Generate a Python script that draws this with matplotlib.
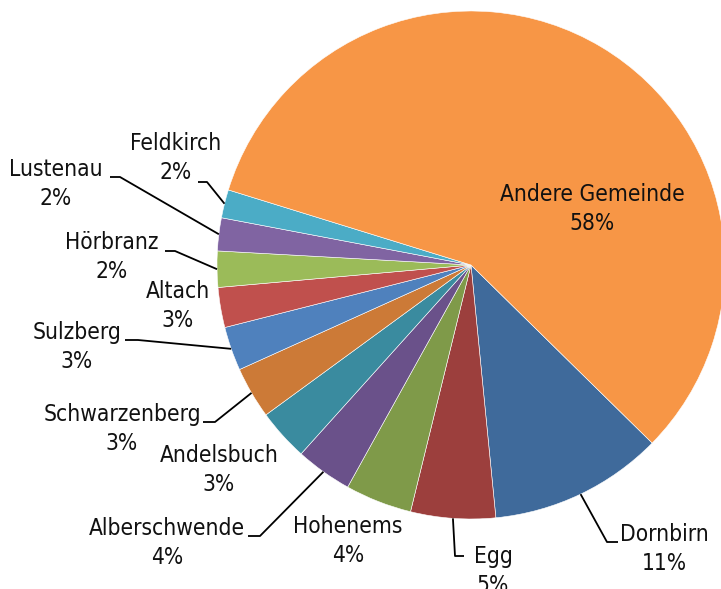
import numpy as np
import matplotlib
matplotlib.use("Agg")
import matplotlib.pyplot as plt
from matplotlib import font_manager

# narrow face if there is one, otherwise condensed DejaVu
names = {f.name for f in font_manager.fontManager.ttflist}
if 'Liberation Sans Narrow' in names:
    plt.rcParams['font.family'] = ['Liberation Sans Narrow', 'DejaVu Sans']
    stretch = 'normal'
else:
    plt.rcParams['font.family'] = ['DejaVu Sans']
    stretch = 'condensed'

# shares per municipality (percent), clockwise from Dornbirn
gemeinden = ['Dornbirn', 'Egg', 'Hohenems', 'Alberschwende', 'Andelsbuch',
             'Schwarzenberg', 'Sulzberg', 'Altach', 'Hörbranz', 'Lustenau',
             'Feldkirch', 'Andere Gemeinde']
anteile = [11.1, 5.4, 4.25, 3.6, 3.3, 3.3, 2.8, 2.55, 2.3, 2.1, 1.8, 57.7]
farben = ['#3F6A9B', '#9C3F3D', '#7F9A49', '#6A518A', '#3A8B9F', '#CC7A37',
          '#4F81BD', '#C0504D', '#9BBB59', '#8064A2', '#4BACC6', '#F79646']

W, H = 721, 589
fig = plt.figure(figsize=(W / 100, H / 100), dpi=100)
ax = fig.add_axes([0, 0, 1, 1])

cx, cy, r = 471, H - 265, 254
wedges, _ = ax.pie(anteile, colors=farben, startangle=-44.5, counterclock=False,
                   center=(cx, cy), radius=r,
                   wedgeprops=dict(edgecolor='white', linewidth=0.4))
ax.set_xlim(0, W)
ax.set_ylim(0, H)
ax.set_aspect('equal')
ax.axis('off')

# label block centres and leader knees (pixel coords from top-left)
pos = {
    'Dornbirn': (664, 549), 'Egg': (493, 571), 'Hohenems': (348, 541),
    'Alberschwende': (167, 543), 'Andelsbuch': (219, 470),
    'Schwarzenberg': (122, 429), 'Sulzberg': (77, 347), 'Altach': (178, 306),
    'Hörbranz': (112, 257), 'Lustenau': (56, 184), 'Feldkirch': (176, 158),
    'Andere Gemeinde': (592, 209),
}
leader = {
    'Dornbirn': [(607, 542), (618, 542)],
    'Egg': [(455, 556), (464, 556)],
    'Alberschwende': [(260, 536), (248, 536)],
    'Schwarzenberg': [(215, 422), (203, 422)],
    'Sulzberg': [(138, 340), (125, 340)],
    'Hörbranz': [(175, 251), (165, 251)],
    'Lustenau': [(120, 177), (110, 177)],
    'Feldkirch': [(207, 182), (198, 182)],
}

total = sum(anteile)
for w, name, v in zip(wedges, gemeinden, anteile):
    x, y = pos[name]
    ax.text(x, H - y, f"{name}\n{v / total * 100:.0f}%", ha='center', va='center',
            fontsize=16.3, fontstretch=stretch, linespacing=1.35, color='#111111')
    if name in leader:
        mid = np.deg2rad((w.theta1 + w.theta2) / 2)
        pts = [(cx + r * np.cos(mid), cy + r * np.sin(mid))]
        pts += [(px, H - py) for px, py in leader[name]]
        xs, ys = zip(*pts)
        ax.plot(xs, ys, color='black', linewidth=1.3, solid_capstyle='butt')

fig.savefig('out.png', dpi=100)
